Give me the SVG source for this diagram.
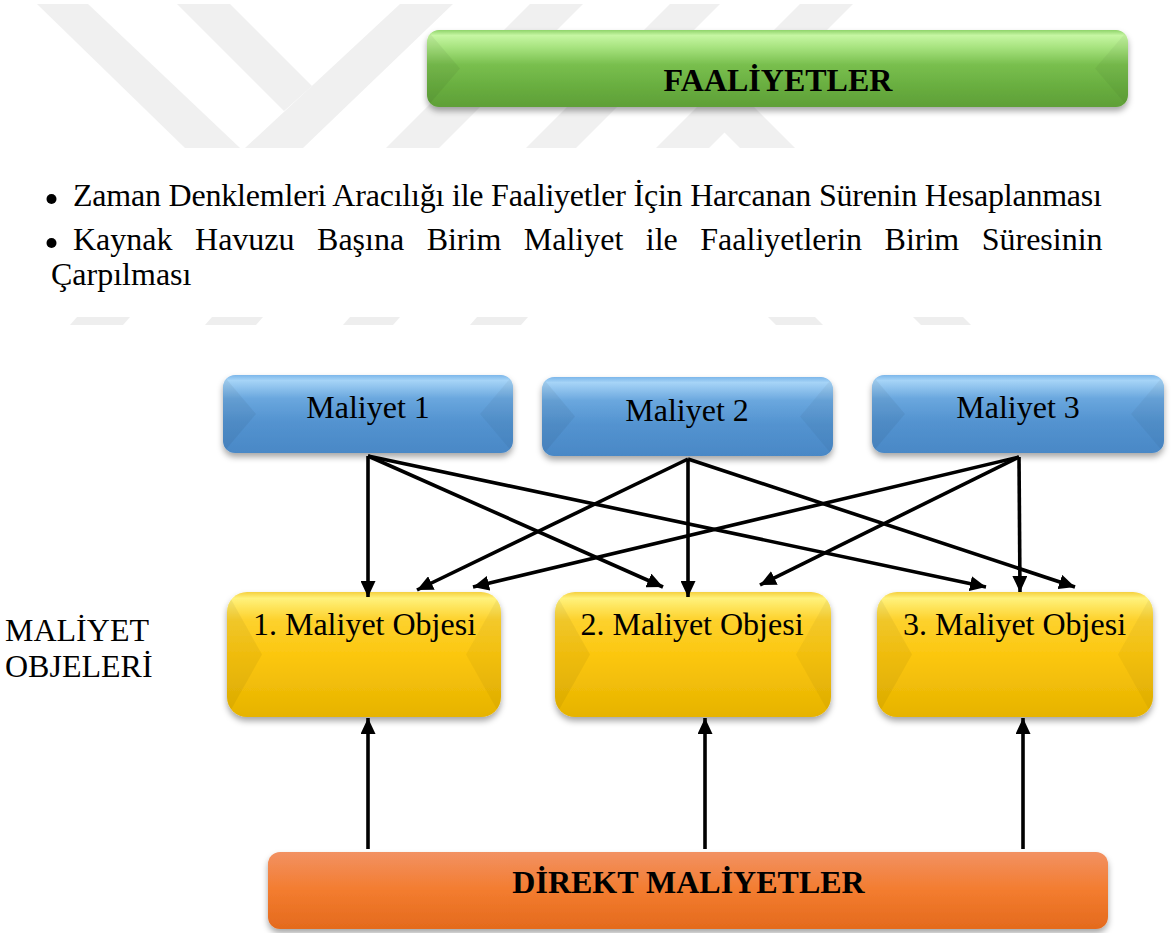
<svg xmlns="http://www.w3.org/2000/svg" width="1171" height="933" viewBox="0 0 1171 933">
<defs>
<style>
.t{font-family:"Liberation Serif","Times New Roman",serif;font-size:32px;fill:#000}
.b{font-weight:bold}
.c{text-anchor:middle}
.wm{fill:#f0f0f0}
.st{fill:#eeeeee}
.conn{stroke:#000;stroke-width:3.6;fill:none;marker-end:url(#ah)}
.fl{fill:#000;opacity:.05}
.fr{fill:#000;opacity:.04}
</style>
<linearGradient id="gGreen" x1="0" y1="0" x2="0" y2="1">
<stop offset="0" stop-color="#8fd36a"/><stop offset=".07" stop-color="#c6f6a3"/><stop offset=".22" stop-color="#a8e480"/><stop offset=".45" stop-color="#79bf4e"/><stop offset=".75" stop-color="#68ad3f"/><stop offset="1" stop-color="#5f9f37"/>
</linearGradient>
<linearGradient id="gBlue" x1="0" y1="0" x2="0" y2="1">
<stop offset="0" stop-color="#7db7ea"/><stop offset=".07" stop-color="#a6d4f7"/><stop offset=".3" stop-color="#6aa7de"/><stop offset=".6" stop-color="#5393d0"/><stop offset="1" stop-color="#4a88c6"/>
</linearGradient>
<linearGradient id="gYellow" x1="0" y1="0" x2="0" y2="1">
<stop offset="0" stop-color="#f5d040"/><stop offset=".05" stop-color="#fff27c"/><stop offset=".22" stop-color="#fdd22e"/><stop offset=".5" stop-color="#fcc70f"/><stop offset="1" stop-color="#e6b300"/>
</linearGradient>
<linearGradient id="gOrange" x1="0" y1="0" x2="0" y2="1">
<stop offset="0" stop-color="#f29162"/><stop offset=".5" stop-color="#f37c2f"/><stop offset="1" stop-color="#e46a1d"/>
</linearGradient>
<filter id="sh" x="-5%" y="-20%" width="110%" height="150%">
<feDropShadow dx="0" dy="4" stdDeviation="3" flood-color="#000" flood-opacity=".35"/>
</filter>
<marker id="ah" markerUnits="userSpaceOnUse" markerWidth="16" markerHeight="15" refX="16" refY="7.5" orient="auto">
<path d="M0,0 L16,7.5 L0,15 z" fill="#000"/>
</marker>
<clipPath id="cG"><rect x="427" y="30" width="701" height="77" rx="12"/></clipPath>
<clipPath id="cB1"><rect x="223" y="375" width="290" height="78" rx="12"/></clipPath>
<clipPath id="cB2"><rect x="542" y="377" width="291" height="79" rx="12"/></clipPath>
<clipPath id="cB3"><rect x="872" y="375" width="292" height="78" rx="12"/></clipPath>
<clipPath id="cY1"><rect x="227" y="592" width="274" height="125" rx="20"/></clipPath>
<clipPath id="cY2"><rect x="555" y="592" width="276" height="125" rx="20"/></clipPath>
<clipPath id="cY3"><rect x="877" y="592" width="276" height="125" rx="20"/></clipPath>
</defs>

<g id="watermark">
<polygon class="wm" points="37,4 88,4 240,148 185,148"/>
<polygon class="wm" points="177,4 230,4 312,86 284,111"/>
<polygon class="wm" points="245,148 303,148 453,4 400,4"/>
<polygon class="wm" points="386,148 439,148 583,4 530,4"/>
<polygon class="wm" points="670,4 720,4 576,148 526,148"/>
<polygon class="wm" points="800,4 853,4 709,148 656,148"/>
<polygon class="wm" points="740,148 795,148 700,53 645,53"/>
<polygon class="st" points="77,317 130,317 123,325 70,325"/>
<polygon class="st" points="212,317 263,317 256,325 205,325"/>
<polygon class="st" points="350,317 400,317 393,325 343,325"/>
<polygon class="st" points="477,317 528,317 521,325 470,325"/>
<polygon class="st" points="768,317 815,317 823,325 776,325"/>
<polygon class="st" points="913,317 963,317 971,325 921,325"/>
</g>

<g id="bullets">
<circle cx="51.5" cy="199" r="5"/>
<text class="t" x="73" y="206" textLength="1029" lengthAdjust="spacing">Zaman Denklemleri Aracılığı ile Faaliyetler İçin Harcanan Sürenin Hesaplanması</text>
<circle cx="51.5" cy="243" r="5"/>
<text class="t" x="73" y="250" word-spacing="14.5">Kaynak Havuzu Başına Birim Maliyet ile Faaliyetlerin Birim Süresinin</text>
<text class="t" x="51" y="285">Çarpılması</text>
</g>

<g id="faaliyetler">
<rect x="427" y="30" width="701" height="77" rx="12" fill="url(#gGreen)" filter="url(#sh)"/>
<g clip-path="url(#cG)">
<polygon class="fl" points="427,30 460,68.5 427,107"/>
<polygon class="fr" points="1128,30 1095,68.5 1128,107"/>
</g>
<text class="t b c" x="778" y="91">FAALİYETLER</text>
</g>

<g id="maliyet1">
<rect x="223" y="375" width="290" height="78" rx="12" fill="url(#gBlue)" filter="url(#sh)"/>
<g clip-path="url(#cB1)">
<polygon class="fl" points="223,375 256,414 223,453"/>
<polygon class="fr" points="513,375 480,414 513,453"/>
</g>
<text class="t c" x="368" y="418">Maliyet 1</text>
</g>

<g id="maliyet2">
<rect x="542" y="377" width="291" height="79" rx="12" fill="url(#gBlue)" filter="url(#sh)"/>
<g clip-path="url(#cB2)">
<polygon class="fl" points="542,377 575,416.5 542,456"/>
<polygon class="fr" points="833,377 800,416.5 833,456"/>
</g>
<text class="t c" x="687" y="421">Maliyet 2</text>
</g>

<g id="maliyet3">
<rect x="872" y="375" width="292" height="78" rx="12" fill="url(#gBlue)" filter="url(#sh)"/>
<g clip-path="url(#cB3)">
<polygon class="fl" points="872,375 905,414 872,453"/>
<polygon class="fr" points="1164,375 1131,414 1164,453"/>
</g>
<text class="t c" x="1018" y="418">Maliyet 3</text>
</g>

<g id="obje1">
<rect x="227" y="592" width="274" height="125" rx="20" fill="url(#gYellow)" filter="url(#sh)"/>
<g clip-path="url(#cY1)">
<polygon class="fl" points="227,592 262,654.5 227,717"/>
<polygon class="fr" points="501,592 466,654.5 501,717"/>
</g>
<text class="t c" x="364.5" y="635">1. Maliyet Objesi</text>
</g>

<g id="obje2">
<rect x="555" y="592" width="276" height="125" rx="20" fill="url(#gYellow)" filter="url(#sh)"/>
<g clip-path="url(#cY2)">
<polygon class="fl" points="555,592 590,654.5 555,717"/>
<polygon class="fr" points="831,592 796,654.5 831,717"/>
</g>
<text class="t c" x="692" y="635">2. Maliyet Objesi</text>
</g>

<g id="obje3">
<rect x="877" y="592" width="276" height="125" rx="20" fill="url(#gYellow)" filter="url(#sh)"/>
<g clip-path="url(#cY3)">
<polygon class="fl" points="877,592 912,654.5 877,717"/>
<polygon class="fr" points="1153,592 1118,654.5 1153,717"/>
</g>
<text class="t c" x="1014.5" y="635">3. Maliyet Objesi</text>
</g>

<g id="maliyet-objeleri-label">
<text class="t" x="5" y="641">MALİYET</text>
<text class="t" x="5" y="677">OBJELERİ</text>
</g>

<g id="direkt-maliyetler">
<rect x="268" y="852" width="840" height="77" rx="12" fill="url(#gOrange)" filter="url(#sh)"/>
<text class="t b c" x="688.5" y="893">DİREKT MALİYETLER</text>
</g>

<g id="connectors">
<path class="conn" d="M368,456 L368,597"/>
<path class="conn" d="M368,456 L663,587"/>
<path class="conn" d="M368,456 L986,587"/>
<path class="conn" d="M688,459 L417,590"/>
<path class="conn" d="M688,459 L688,597"/>
<path class="conn" d="M688,459 L1075,587"/>
<path class="conn" d="M1019,457 L473,587"/>
<path class="conn" d="M1019,457 L760,585"/>
<path class="conn" d="M1019,457 L1020,592"/>
<path class="conn" d="M368,849 L368,718"/>
<path class="conn" d="M705,849 L705,718"/>
<path class="conn" d="M1023,849 L1023,718"/>
</g>
</svg>
